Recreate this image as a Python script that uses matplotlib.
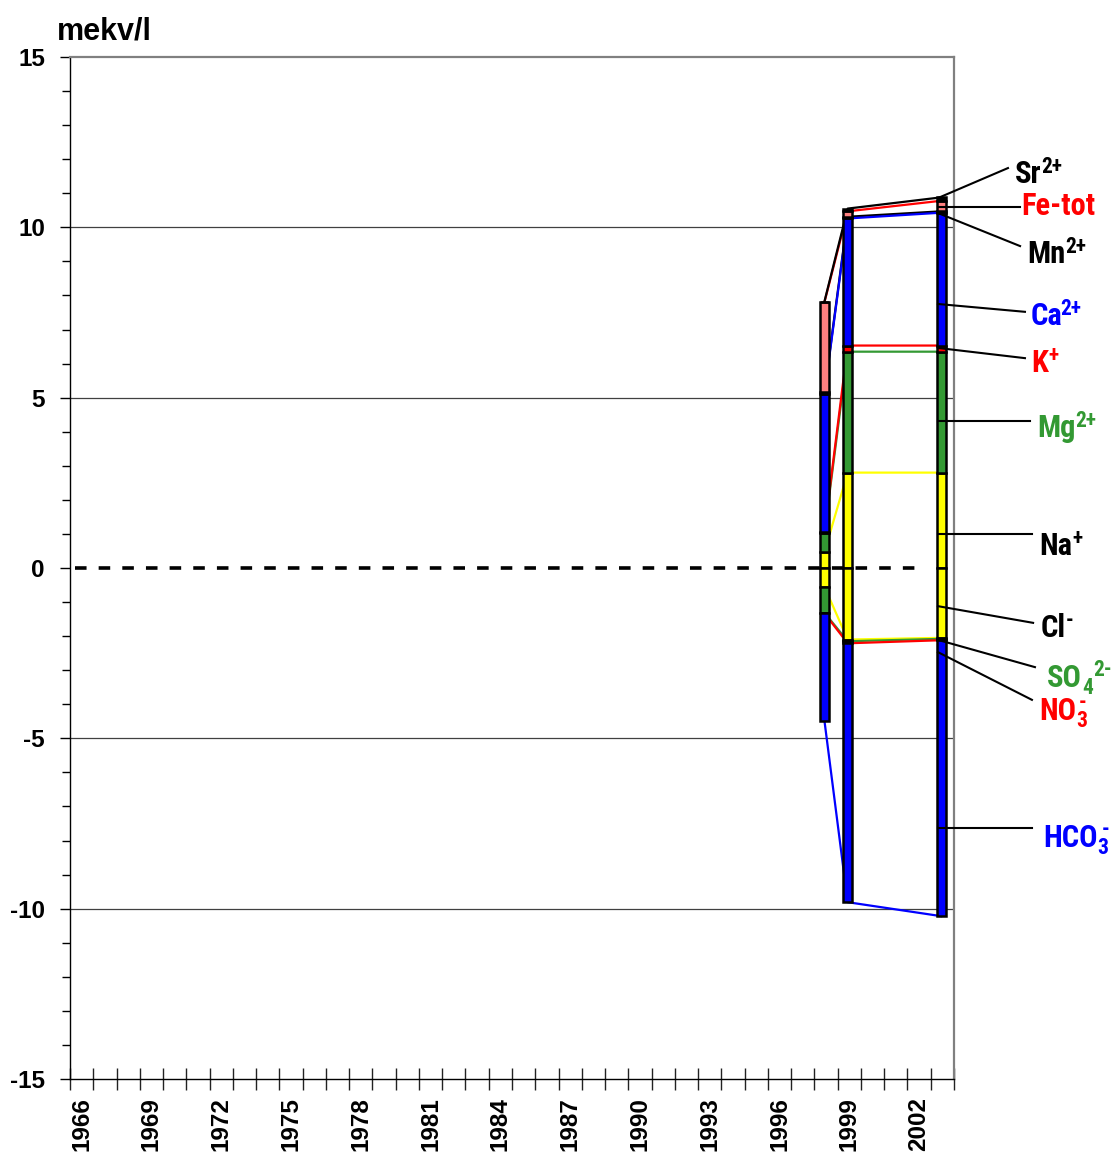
import numpy as np
import matplotlib
matplotlib.use('Agg')
import matplotlib.pyplot as plt
from matplotlib import font_manager as fm

# ---------------- data (mekv/l) ----------------
sample_years = [1998.43, 1999.43, 2003.45]
# cations, stacked upward from 0
na = [0.47, 2.80, 2.80]
mg = [0.55, 3.55, 3.55]
k = [0.05, 0.18, 0.18]
ca = [4.05, 3.73, 3.90]
mn = [0.05, 0.05, 0.04]
fe = [2.63, 0.16, 0.31]
sr = [0.02, 0.08, 0.10]
# anions, stacked downward from 0
cl = [0.55, 2.10, 2.05]
so4 = [0.76, 0.05, 0.03]
no3 = [0.02, 0.06, 0.04]
hco3 = [3.15, 7.60, 8.10]
year_labels = list(range(1966, 2003, 3))
y_ticks = [-15, -10, -5, 0, 5, 10, 15]
y_label = 'mekv/l'

# ---------------- fonts ----------------
def find_condensed_bold():
    prefs = ['Liberation Sans Narrow', 'Arial Narrow', 'Roboto Condensed',
             'DejaVu Sans Condensed', 'Open Sans Condensed']
    entries = fm.fontManager.ttflist
    def is_bold(e):
        w = e.weight
        if isinstance(w, str):
            return w in ('bold', 'heavy', 'black', 'extra bold', 'demibold', 'semibold')
        return w >= 600
    for p in prefs:
        for e in entries:
            if e.name == p and is_bold(e) and e.style == 'normal':
                return e.fname
    for e in entries:
        if ('Condensed' in e.fname or 'Narrow' in e.fname) and is_bold(e) \
                and 'Oblique' not in e.fname and 'Italic' not in e.fname:
            return e.fname
    return None

NARROW_FILE = find_condensed_bold()
if NARROW_FILE:
    def nfp(size):
        return fm.FontProperties(fname=NARROW_FILE, size=size)
    NSCALE = 1.0
else:
    def nfp(size):
        return fm.FontProperties(family='Liberation Sans', weight='bold', size=size)
    NSCALE = 0.86

REG = 'Liberation Sans'
plt.rcParams['axes.unicode_minus'] = False

YEL = '#FFFF00'
GRN = '#339933'
RED = '#FF0000'
BLU = '#0000FF'
BLK = '#000000'
SAL = '#FF8080'

fig = plt.figure(figsize=(11.15, 11.58), dpi=100)
ax = fig.add_axes([70/1115, 79/1158, 884/1115, 1022/1158])
ax.set_xlim(1966, 2004)
ax.set_ylim(-15, 15)

W = 0.40
x = np.array(sample_years)

cations = [(na, YEL, YEL), (mg, GRN, GRN), (k, RED, RED), (ca, BLU, BLU),
           (mn, BLK, BLK), (fe, SAL, RED), (sr, BLK, BLK)]
anions = [(cl, YEL), (so4, GRN), (no3, RED), (hco3, BLU)]

cum = np.zeros(len(x))
for i, (vals, fc, lc) in enumerate(cations):
    v = np.array(vals)
    ax.bar(x, v, width=W, bottom=cum, color=fc, edgecolor='black', linewidth=1.8, zorder=3)
    top = cum + v
    z = 2.0 if vals is mn else 2.1 + i * 0.01
    ax.plot(x, top, color=lc, lw=1.6, zorder=z)
    cum = top

cum = np.zeros(len(x))
for i, (vals, fc) in enumerate(anions):
    v = np.array(vals)
    ax.bar(x, -v, width=W, bottom=-cum, color=fc, edgecolor='black', linewidth=1.8, zorder=3)
    bot = cum + v
    ax.plot(x, -bot, color=fc, lw=1.6, zorder=2.1 + i * 0.01)
    cum = bot

# grid lines and zero line
for g in [-10, -5, 5, 10]:
    ax.axhline(g, color='#404040', lw=0.9, zorder=1)
ax.plot([1966.2, 2002.7], [0, 0], color='black', lw=2.6, ls=(0, (3.2, 3.35)), zorder=1.5)

# spines
for s in ['top', 'right']:
    ax.spines[s].set_color('#808080')
    ax.spines[s].set_linewidth(1.6)
for s in ['left', 'bottom']:
    ax.spines[s].set_color('black')
    ax.spines[s].set_linewidth(1.0)

# x ticks
ax.set_xticks(np.arange(1966, 2005))
ax.tick_params(axis='x', which='major', direction='inout', length=16, width=1.0,
               color='#222222', labelbottom=False)
ax.set_xticks([yy + 0.5 for yy in year_labels], minor=True)
ax.set_xticklabels([str(yy) for yy in year_labels], minor=True, rotation=90,
                   fontsize=17.5, fontweight='bold', family=REG, va='top', ha='center')
ax.tick_params(axis='x', which='minor', length=0, pad=13)

# y ticks
ax.set_yticks(y_ticks)
ax.set_yticklabels([str(t) for t in y_ticks], fontsize=17.5, fontweight='bold', family=REG)
ax.set_yticks(np.arange(-15, 16, 1), minor=True)
ax.tick_params(axis='y', which='major', direction='out', length=7, width=1.0, pad=11)
ax.tick_params(axis='y', which='minor', direction='out', length=6, width=1.0)

fig.text(57/1115, 1 - 40/1158, y_label, fontsize=22, fontweight='bold', family=REG,
         va='baseline', ha='left')

# ---------------- right-hand labels ----------------
# (base, sub, sup, colour, leader start, leader end, text anchor, sup x-shift pts)
labels = [
    ('Sr', None, '2+', BLK, (2003.31, 10.86), (2006.32, 11.74), (2006.62, 11.30), 0),
    ('Fe-tot', None, None, RED, (2003.31, 10.60), (2006.84, 10.60), (2006.88, 10.36), 0),
    ('Mn', None, '2+', BLK, (2003.31, 10.42), (2006.84, 9.45), (2007.14, 8.95), 0),
    ('Ca', None, '2+', BLU, (2003.31, 7.75), (2007.05, 7.52), (2007.31, 7.13), -1.5),
    ('K', None, '+', RED, (2003.31, 6.46), (2007.05, 6.16), (2007.31, 5.75), 0),
    ('Mg', None, '2+', GRN, (2003.31, 4.31), (2007.27, 4.31), (2007.57, 3.85), 0),
    ('Na', None, '+', BLK, (2003.31, 1.00), (2007.35, 1.00), (2007.65, 0.38), 0),
    ('Cl', None, '-', BLK, (2003.31, -1.12), (2007.40, -1.61), (2007.74, -2.03), 0),
    ('SO', '4', '2-', GRN, (2003.31, -2.11), (2007.48, -2.91), (2008.00, -3.49), 0),
    ('NO', '3', '-', RED, (2003.31, -2.47), (2007.35, -3.87), (2007.65, -4.46), -6),
    ('HCO', '3', '-', BLU, (2003.31, -7.63), (2007.35, -7.63), (2007.83, -8.19), -5),
]
FS = 22 * NSCALE
SFS = 15.5 * NSCALE
for base, sub, sup, col, p0, p1, pt, supdx in labels:
    ax.plot([p0[0], p1[0]], [p0[1], p1[1]], color='black', lw=1.5, clip_on=False, zorder=6)
    t = ax.text(pt[0], pt[1], base, color=col, fontproperties=nfp(FS),
                ha='left', va='baseline', clip_on=False, zorder=7)
    anchor = t
    if sub is not None:
        anchor = ax.annotate(sub, xy=(1, 0), xycoords=t, xytext=(0, -0.5),
                             textcoords='offset points', color=col, fontproperties=nfp(SFS),
                             ha='left', va='baseline', annotation_clip=False, zorder=7)
    if sup is not None:
        ax.annotate(sup, xy=(1, 0), xycoords=anchor,
                    xytext=(supdx * NSCALE, (11.5 if sub is None else 16) * NSCALE),
                    textcoords='offset points', color=col, fontproperties=nfp(SFS),
                    ha='left', va='baseline', annotation_clip=False, zorder=7)

fig.savefig('out.png', dpi=100)
